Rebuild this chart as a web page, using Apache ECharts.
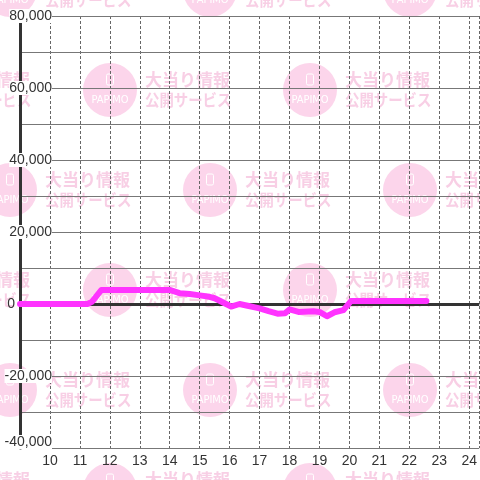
<!DOCTYPE html>
<html><head><meta charset="utf-8">
<script src="https://cdn.jsdelivr.net/npm/echarts@6/dist/echarts.min.js"></script>
<style>html,body{margin:0;padding:0;background:#fff}#c{width:480px;height:480px}</style>
</head><body><div id="c"></div>
<script>
// Data (hour of day, balance)
const hours   = [9, 11.25, 11.4, 11.72, 14.0, 14.33, 14.67, 15.0, 15.33, 15.5, 15.67, 15.83, 16.05, 16.33, 16.6, 17.0, 17.3, 17.6, 17.85, 18.0, 18.3, 18.8, 19.0, 19.25, 19.5, 19.8, 20.05, 22.57];
const balance = [0, 0, 600, 3900, 3900, 3000, 2800, 2400, 2000, 1600, 900, 200, -700, 0, -500, -1200, -2000, -2700, -2600, -1500, -2200, -2000, -2200, -3400, -2300, -1700, 800, 800];
const xTicks = [10,11,12,13,14,15,16,17,18,19,20,21,22,23,24];
const yMin = -40000, yMax = 80000, yStep = 20000;
const wmLine1 = '大当り情報', wmLine2 = '公開サービス', wmLogo = 'PAPIMO';

const points = hours.map((h, i) => [h, balance[i]]);

// watermark tiles (decoration)
const wm = [];
for (let r = -1; r <= 4; r++) {
  const cy = 90 + 100 * r;
  const base = (r % 2 === 0) ? 110 : 10;
  for (let k = -1; k <= 2; k++) {
    const cx = base + 200 * k;
    wm.push({type:'circle', shape:{cx:cx, cy:cy, r:27}, style:{fill:'#fcd5eb'}, z:-10, silent:true});
    wm.push({type:'rect', shape:{x:cx-3.5, y:cy-16, width:7, height:11, r:1.5}, style:{fill:'none', stroke:'#fff', lineWidth:1}, z:-9, silent:true});
    wm.push({type:'text', x:cx, y:cy+10, style:{text:wmLogo, fill:'#fff', font:'11px "DejaVu Sans Condensed", sans-serif', align:'center', verticalAlign:'middle'}, z:-9, silent:true});
    wm.push({type:'text', x:cx+35, y:cy-10, style:{text:wmLine1, fill:'#f8cfe5', font:'bold 17px "Noto Sans CJK JP", sans-serif', align:'left', verticalAlign:'middle'}, z:-10, silent:true});
    wm.push({type:'text', x:cx+35, y:cy+10, scaleX:0.9, style:{text:wmLine2, fill:'#f8cfe5', font:'bold 16px "Noto Sans CJK JP", sans-serif', align:'left', verticalAlign:'middle'}, z:-10, silent:true});
  }
}

const fmt = v => (v < 0 ? '-' : '') + Math.abs(v).toLocaleString('en-US');
const lblFont = {fontSize:14, color:'#333', fontFamily:'"Liberation Sans", Arial, sans-serif', lineHeight:16};

const chart = echarts.init(document.getElementById('c'), null, {renderer:'canvas'});
chart.setOption({
  backgroundColor:'#fff',
  animation:false,
  graphic:{elements: wm},
  grid:{left:20, top:16, width:460, height:432, containLabel:false},
  xAxis:{
    type:'value', min:9, max:24.3333, interval:1, z:0,
    axisLine:{show:false}, axisTick:{show:false},
    axisLabel:{showMaxLabel:false, margin:6, fontSize:14, color:'#333', fontFamily:'"Liberation Sans", Arial, sans-serif',
      formatter: v => (Number.isInteger(v) && xTicks.indexOf(v) >= 0) ? String(v) : ''},
    splitLine:{show:true, lineStyle:{color:'#666', width:1, type:[3,2]}}
  },
  yAxis:{
    type:'value', min:yMin, max:yMax, interval:yStep, z:1,
    axisLine:{show:true, onZero:false, lineStyle:{color:'#333', width:3}},
    axisTick:{show:false},
    minorTick:{show:false, splitNumber:2},
    minorSplitLine:{show:true, lineStyle:{color:'#777', width:1}},
    splitLine:{show:true, lineStyle:{color:'#777', width:1}},
    axisLabel:{
      margin:-32, align:'right', ...lblFont,
      formatter: v => v === 0 ? '{z|0}' : (v === yMin ? '{n|' + fmt(v) + '}\n{s| }' : '{n|' + fmt(v) + '}'),
      rich:{
        n:{...lblFont, backgroundColor:'#fff'},
        z:{...lblFont, padding:[0,37,0,0]},
        s:{fontSize:10, lineHeight:12}
      }
    }
  },
  series:[
    {type:'line', data:[], z:1, silent:true,
     markLine:{silent:true, z:1, symbol:'none', label:{show:false}, lineStyle:{color:'#333', width:3, type:'solid'}, data:[{yAxis:0}]}},
    {type:'line', data:points, z:3, symbol:'none', silent:true,
     lineStyle:{color:'#ff33ff', width:6, cap:'round', join:'round'}}
  ]
});
</script></body></html>
